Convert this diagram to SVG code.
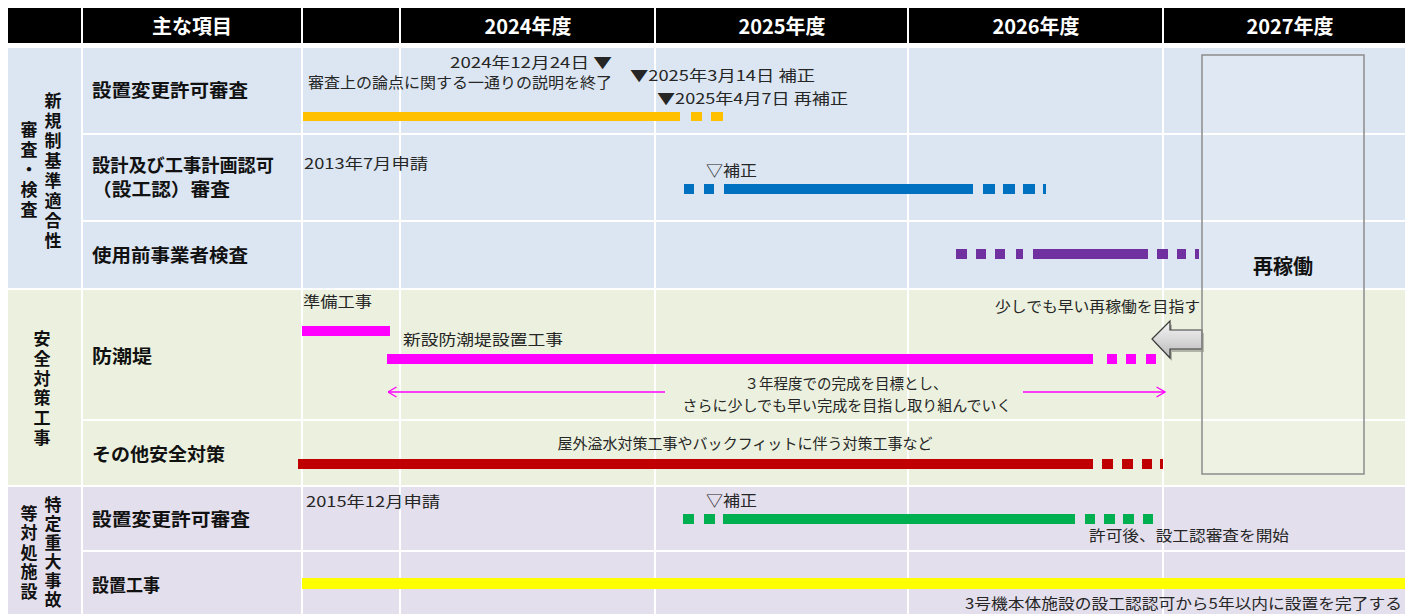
<svg xmlns="http://www.w3.org/2000/svg" width="1405" height="614" viewBox="0 0 1405 614">
<defs>
<style>
.hd{fill:#000}
.ht{font-family:"Noto Sans CJK JP","Noto Sans",sans-serif;font-weight:bold;font-size:20px;fill:#fff;text-anchor:middle}
.lb{font-family:"Noto Sans CJK JP","Noto Sans",sans-serif;font-weight:bold;font-size:18px;fill:#111}
.vt{font-family:"Noto Sans CJK JP","Noto Sans",sans-serif;font-weight:bold;font-size:17px;fill:#111;writing-mode:vertical-rl;text-orientation:upright}
.tx{font-family:"Noto Sans CJK JP","Noto Sans",sans-serif;font-size:15px;fill:#262626}
.gl{stroke:#fff;stroke-width:2}
.mg{stroke:#FF00FF;stroke-width:1.3;fill:none}
</style>
<marker id="chev" viewBox="0 0 10 12" refX="9.5" refY="6" markerWidth="10" markerHeight="12" markerUnits="userSpaceOnUse" orient="auto">
<path d="M1,1 L9.5,6 L1,11" fill="none" stroke="#FF00FF" stroke-width="1.3"/>
</marker>
<linearGradient id="ag" x1="0" y1="0" x2="0" y2="1">
<stop offset="0" stop-color="#f4f4f4"/>
<stop offset="0.5" stop-color="#d9d9d9"/>
<stop offset="1" stop-color="#b8b8b8"/>
</linearGradient>
</defs>
<rect width="1405" height="614" fill="#fff"/>
<g id="header">
<rect class="hd" x="8" y="8" width="73" height="35"/>
<rect class="hd" x="83" y="8" width="218" height="35"/>
<rect class="hd" x="303" y="8" width="96" height="35"/>
<rect class="hd" x="401" y="8" width="253" height="35"/>
<rect class="hd" x="656" y="8" width="251" height="35"/>
<rect class="hd" x="909" y="8" width="253" height="35"/>
<rect class="hd" x="1164" y="8" width="241" height="35"/>
<text class="ht" x="192" y="34">主な項目</text>
<text class="ht" x="528" y="34">2024年度</text>
<text class="ht" x="782" y="34">2025年度</text>
<text class="ht" x="1036" y="34">2026年度</text>
<text class="ht" x="1290" y="34">2027年度</text>
</g>
<g id="backgrounds">
<rect x="8" y="48" width="1397" height="240" fill="#DCE6F2"/>
<rect x="8" y="290" width="1397" height="195" fill="#EBF1DE"/>
<rect x="8" y="487" width="1397" height="127" fill="#E4DFEC"/>
<line class="gl" x1="82" y1="48" x2="82" y2="614"/>
<line class="gl" x1="302" y1="48" x2="302" y2="614"/>
<line class="gl" x1="400" y1="48" x2="400" y2="614"/>
<line class="gl" x1="655" y1="48" x2="655" y2="614"/>
<line class="gl" x1="908" y1="48" x2="908" y2="614"/>
<line class="gl" x1="1163" y1="48" x2="1163" y2="614"/>
<line class="gl" x1="82" y1="134" x2="1405" y2="134"/>
<line class="gl" x1="82" y1="221" x2="1405" y2="221"/>
<line class="gl" x1="82" y1="420" x2="1405" y2="420"/>
<line class="gl" x1="82" y1="551" x2="1405" y2="551"/>
</g>
<g id="section-1">
<text class="vt" x="53" y="92" letter-spacing="3">新規制基準適合性</text>
<text class="vt" x="29" y="121" letter-spacing="3">審査・検査</text>
</g>
<g id="row-setchi-henko">
<text class="lb" x="92" y="97" textLength="156" lengthAdjust="spacingAndGlyphs">設置変更許可審査</text>
<text class="tx" x="612" y="68" text-anchor="end" textLength="162" lengthAdjust="spacingAndGlyphs">2024年12月24日 ▼</text>
<text class="tx" x="308" y="88" textLength="304" lengthAdjust="spacingAndGlyphs">審査上の論点に関する一通りの説明を終了</text>
<text class="tx" x="630" y="81" textLength="185" lengthAdjust="spacingAndGlyphs">▼2025年3月14日 補正</text>
<text class="tx" x="657" y="104" textLength="191" lengthAdjust="spacingAndGlyphs">▼2025年4月7日 再補正</text>
<g fill="#FFC000">
<rect x="303" y="112" width="377" height="9"/>
<rect x="691" y="112" width="11" height="9"/>
<rect x="711" y="112" width="12" height="9"/>
</g>
</g>
<g id="row-sekkonin">
<text class="lb" x="92" y="172" textLength="182" lengthAdjust="spacingAndGlyphs">設計及び工事計画認可</text>
<text class="lb" x="92" y="196" textLength="138" lengthAdjust="spacingAndGlyphs">（設工認）審査</text>
<text class="tx" x="304" y="169" textLength="124" lengthAdjust="spacingAndGlyphs">2013年7月申請</text>
<text class="tx" x="706" y="176" textLength="51" lengthAdjust="spacingAndGlyphs">▽補正</text>
<g fill="#0070C0">
<rect x="684" y="184" width="10" height="10"/>
<rect x="704" y="184" width="10" height="10"/>
<rect x="724" y="184" width="249" height="10"/>
<rect x="983" y="184" width="12" height="10"/>
<rect x="1003" y="184" width="12" height="10"/>
<rect x="1023" y="184" width="12" height="10"/>
<rect x="1043" y="184" width="3" height="10"/>
</g>
</g>
<g id="row-shiyomae">
<text class="lb" x="92" y="262" textLength="156" lengthAdjust="spacingAndGlyphs">使用前事業者検査</text>
<g fill="#7030A0">
<rect x="956" y="249" width="11" height="10"/>
<rect x="976" y="249" width="10" height="10"/>
<rect x="995" y="249" width="10" height="10"/>
<rect x="1016" y="249" width="7" height="10"/>
<rect x="1033" y="249" width="115" height="10"/>
<rect x="1157" y="249" width="11" height="10"/>
<rect x="1177" y="249" width="9" height="10"/>
<rect x="1195" y="249" width="4" height="10"/>
</g>
</g>
<g id="section-2">
<text class="vt" x="42" y="330" letter-spacing="2.8">安全対策工事</text>
</g>
<g id="row-bochotei">
<text class="lb" x="92" y="363" textLength="60" lengthAdjust="spacingAndGlyphs">防潮堤</text>
<text class="tx" x="303" y="307" textLength="69" lengthAdjust="spacingAndGlyphs">準備工事</text>
<rect x="302" y="326" width="88" height="10" fill="#FF00FF"/>
<text class="tx" x="403" y="345" textLength="160" lengthAdjust="spacingAndGlyphs">新設防潮堤設置工事</text>
<g fill="#FF00FF">
<rect x="387" y="354" width="706" height="10"/>
<rect x="1107" y="354" width="10" height="10"/>
<rect x="1126" y="354" width="10" height="10"/>
<rect x="1146" y="354" width="10" height="10"/>
</g>
<text class="tx" x="846" y="389" text-anchor="middle" textLength="203" lengthAdjust="spacingAndGlyphs">３年程度での完成を目標とし、</text>
<text class="tx" x="847" y="411" text-anchor="middle" textLength="329" lengthAdjust="spacingAndGlyphs">さらに少しでも早い完成を目指し取り組んでいく</text>
<text class="tx" x="1200" y="312" text-anchor="end" textLength="205" lengthAdjust="spacingAndGlyphs">少しでも早い再稼働を目指す</text>
</g>
<g id="row-sonota">
<text class="lb" x="92" y="461" textLength="133" lengthAdjust="spacingAndGlyphs">その他安全対策</text>
<text class="tx" x="745" y="449" text-anchor="middle" textLength="375" lengthAdjust="spacingAndGlyphs">屋外溢水対策工事やバックフィットに伴う対策工事など</text>
<g fill="#C00000">
<rect x="298" y="459" width="795" height="10"/>
<rect x="1102" y="459" width="11" height="10"/>
<rect x="1122" y="459" width="11" height="10"/>
<rect x="1142" y="459" width="10" height="10"/>
<rect x="1160" y="459" width="3" height="10"/>
</g>
</g>
<g id="section-3">
<text class="vt" x="53" y="496" letter-spacing="2">特定重大事故</text>
<text class="vt" x="29" y="505" letter-spacing="2.5">等対処施設</text>
</g>
<g id="row-tokutei-kyoka">
<text class="lb" x="92" y="526" textLength="158" lengthAdjust="spacingAndGlyphs">設置変更許可審査</text>
<text class="tx" x="306" y="507" textLength="134" lengthAdjust="spacingAndGlyphs">2015年12月申請</text>
<text class="tx" x="706" y="506" textLength="51" lengthAdjust="spacingAndGlyphs">▽補正</text>
<g fill="#00B050">
<rect x="683" y="514" width="11" height="10"/>
<rect x="704" y="514" width="11" height="10"/>
<rect x="723" y="514" width="352" height="10"/>
<rect x="1085" y="514" width="10" height="10"/>
<rect x="1104" y="514" width="11" height="10"/>
<rect x="1123" y="514" width="11" height="10"/>
<rect x="1143" y="514" width="10" height="10"/>
</g>
<text class="tx" x="1089" y="541" textLength="200" lengthAdjust="spacingAndGlyphs">許可後、設工認審査を開始</text>
</g>
<g id="row-setchi-koji">
<text class="lb" x="92" y="592" textLength="68" lengthAdjust="spacingAndGlyphs">設置工事</text>
<rect x="302" y="578" width="1103" height="11" fill="#FFFF00"/>
<text class="tx" x="1402" y="609" text-anchor="end" textLength="437" lengthAdjust="spacingAndGlyphs">3号機本体施設の設工認認可から5年以内に設置を完了する</text>
</g>
<g id="connectors">
<line class="mg" x1="665" y1="392" x2="388" y2="392" marker-end="url(#chev)"/>
<line class="mg" x1="1023" y1="392" x2="1165" y2="392" marker-end="url(#chev)"/>
</g>
<g id="restart-arrow">
<path d="M1154,342 L1172,324 L1172,333 L1204,333 L1204,352 L1172,352 L1172,361 Z" fill="#000" fill-opacity="0.25"/>
<path d="M1152,339 L1170,321 L1170,330 L1202,330 L1202,349 L1170,349 L1170,358 Z" fill="url(#ag)" stroke="#3a3a3a" stroke-width="1.2" stroke-linejoin="miter"/>
</g>
<g id="restart-box">
<rect x="1202" y="55" width="162" height="419" fill="#fff" fill-opacity="0.12" stroke="#8C8C8C" stroke-width="1.5"/>
<text x="1283" y="274" text-anchor="middle" font-family="'Noto Sans CJK JP','Noto Sans',sans-serif" font-weight="bold" font-size="20" fill="#111">再稼働</text>
</g>
</svg>
